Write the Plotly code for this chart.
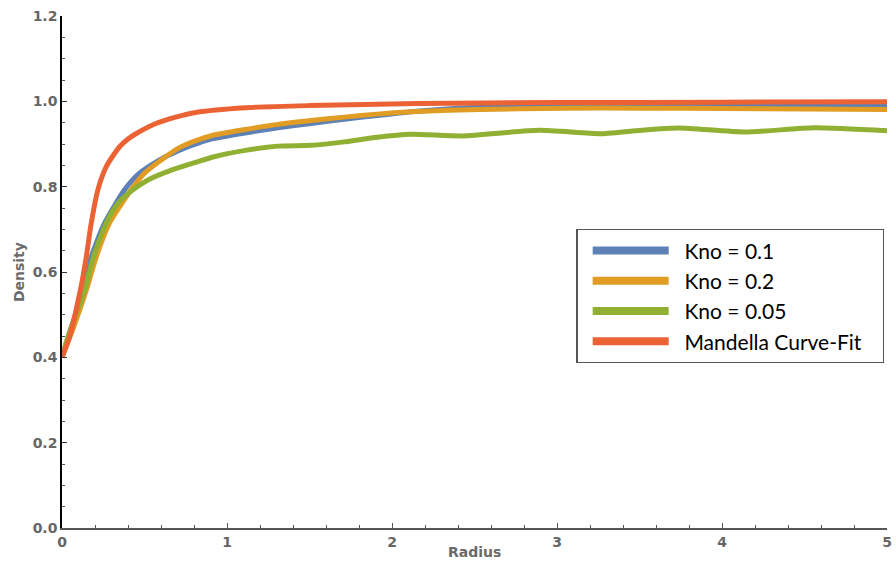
import plotly.graph_objects as go

# Kno = 0.1 (blue)
x_blue = [0.0, 0.06, 0.127, 0.177, 0.257, 0.378, 0.468, 0.589, 0.709, 0.818, 0.91, 1.11, 1.31, 1.51, 1.71, 1.91, 2.15, 2.4, 2.63, 3.0, 3.53, 4.0, 4.5, 5.0]
y_blue = [0.40, 0.475, 0.557, 0.635, 0.714, 0.792, 0.831, 0.862, 0.885, 0.901, 0.912, 0.926, 0.938, 0.948, 0.958, 0.967, 0.977, 0.984, 0.988, 0.990, 0.991, 0.991, 0.991, 0.991]

# Kno = 0.2 (orange)
x_orange = [0.0, 0.07, 0.147, 0.207, 0.287, 0.418, 0.498, 0.599, 0.709, 0.82, 0.91, 1.11, 1.31, 1.51, 1.71, 1.91, 2.15, 2.53, 3.03, 3.53, 4.0, 4.5, 5.0]
y_orange = [0.40, 0.47, 0.557, 0.635, 0.714, 0.792, 0.831, 0.862, 0.891, 0.909, 0.920, 0.934, 0.946, 0.955, 0.963, 0.970, 0.976, 0.981, 0.984, 0.984, 0.983, 0.982, 0.981]

# Kno = 0.05 (green)
x_green = [0.0, 0.036, 0.137, 0.19, 0.267, 0.337, 0.428, 0.518, 0.659, 0.82, 0.91, 1.11, 1.31, 1.51, 1.71, 1.91, 2.11, 2.43, 2.89, 3.27, 3.53, 3.74, 4.14, 4.56, 5.0]
y_green = [0.40, 0.448, 0.557, 0.635, 0.714, 0.760, 0.792, 0.815, 0.838, 0.858, 0.869, 0.885, 0.895, 0.897, 0.905, 0.916, 0.923, 0.919, 0.932, 0.924, 0.933, 0.9375, 0.928, 0.938, 0.931]

# Mandella Curve-Fit (red)
x_red = [0.0, 0.046, 0.111, 0.147, 0.177, 0.217, 0.267, 0.31, 0.348, 0.398, 0.448, 0.569, 0.689, 0.81, 1.11, 1.5, 2.15, 3.0, 4.0, 5.0]
y_red = [0.40, 0.448, 0.557, 0.635, 0.714, 0.792, 0.846, 0.873, 0.893, 0.911, 0.924, 0.948, 0.963, 0.974, 0.985, 0.990, 0.995, 0.997, 0.998, 0.999]

series = [
    ("Kno = 0.1", x_blue, y_blue, "#5E81B5"),
    ("Kno = 0.2", x_orange, y_orange, "#E19C24"),
    ("Kno = 0.05", x_green, y_green, "#8FB032"),
    ("Mandella Curve-Fit", x_red, y_red, "#EB6235"),
]

x_ticks = [0, 1, 2, 3, 4, 5]
y_ticks = [0.0, 0.2, 0.4, 0.6, 0.8, 1.0, 1.2]

NB = "\u00a0"

fig = go.Figure()
for name, xs, ys, c in series:
    fig.add_trace(go.Scatter(x=xs, y=ys, mode="lines", name=name,
                             line=dict(color=c, width=5, shape="spline", smoothing=0.6),
                             showlegend=False, legendgroup=name))
for name, xs, ys, c in series:
    fig.add_trace(go.Scatter(x=[None], y=[None], mode="lines", name=NB * 2 + name + NB * 3,
                             line=dict(color=c, width=8),
                             showlegend=True, legendgroup=name))

tick_font = dict(family="DejaVu Sans", size=14, color="#666666", weight="bold")
title_font = dict(family="DejaVu Sans", size=14, color="#6a6a6a", weight="bold")

fig.update_layout(
    width=896, height=565,
    margin=dict(l=62, r=4, t=16, b=37),
    paper_bgcolor="white", plot_bgcolor="white",
    showlegend=True,
    legend=dict(x=0.6235, y=0.584, xanchor="left", yanchor="top",
                bordercolor="#555555", borderwidth=1.3, bgcolor="white",
                font=dict(family="Lato", size=21, color="black"),
                itemwidth=76, tracegroupgap=0, indentation=10),
    xaxis=dict(range=[0, 5], tickvals=x_ticks, ticktext=[str(v) for v in x_ticks],
               showgrid=False, zeroline=False, showline=True, linecolor="#555555", linewidth=1.5,
               ticks="inside", ticklen=5, tickwidth=1, tickcolor="#555555",
               ticklabeloverflow="allow",
               minor=dict(dtick=0.2, ticks="inside", ticklen=3, tickcolor="#555555", showgrid=False),
               tickfont=tick_font),
    yaxis=dict(range=[0, 1.2], tickvals=y_ticks, ticktext=[f"{v:.1f}" for v in y_ticks],
               showgrid=False, zeroline=False, showline=True, linecolor="black", linewidth=1.5,
               ticks="inside", ticklen=5, tickwidth=1, tickcolor="#333333",
               ticklabeloverflow="allow",
               minor=dict(dtick=0.05, ticks="inside", ticklen=3, tickcolor="#555555", showgrid=False),
               tickfont=tick_font),
    annotations=[
        dict(text="Radius", x=0.5, y=-0.047, xref="paper", yref="paper", showarrow=False,
             xanchor="center", yanchor="middle", font=title_font),
        dict(text="Density", x=-0.052, y=0.5, xref="paper", yref="paper", showarrow=False,
             textangle=-90, xanchor="center", yanchor="middle", font=title_font),
    ],
)

fig.write_html("out.html")
